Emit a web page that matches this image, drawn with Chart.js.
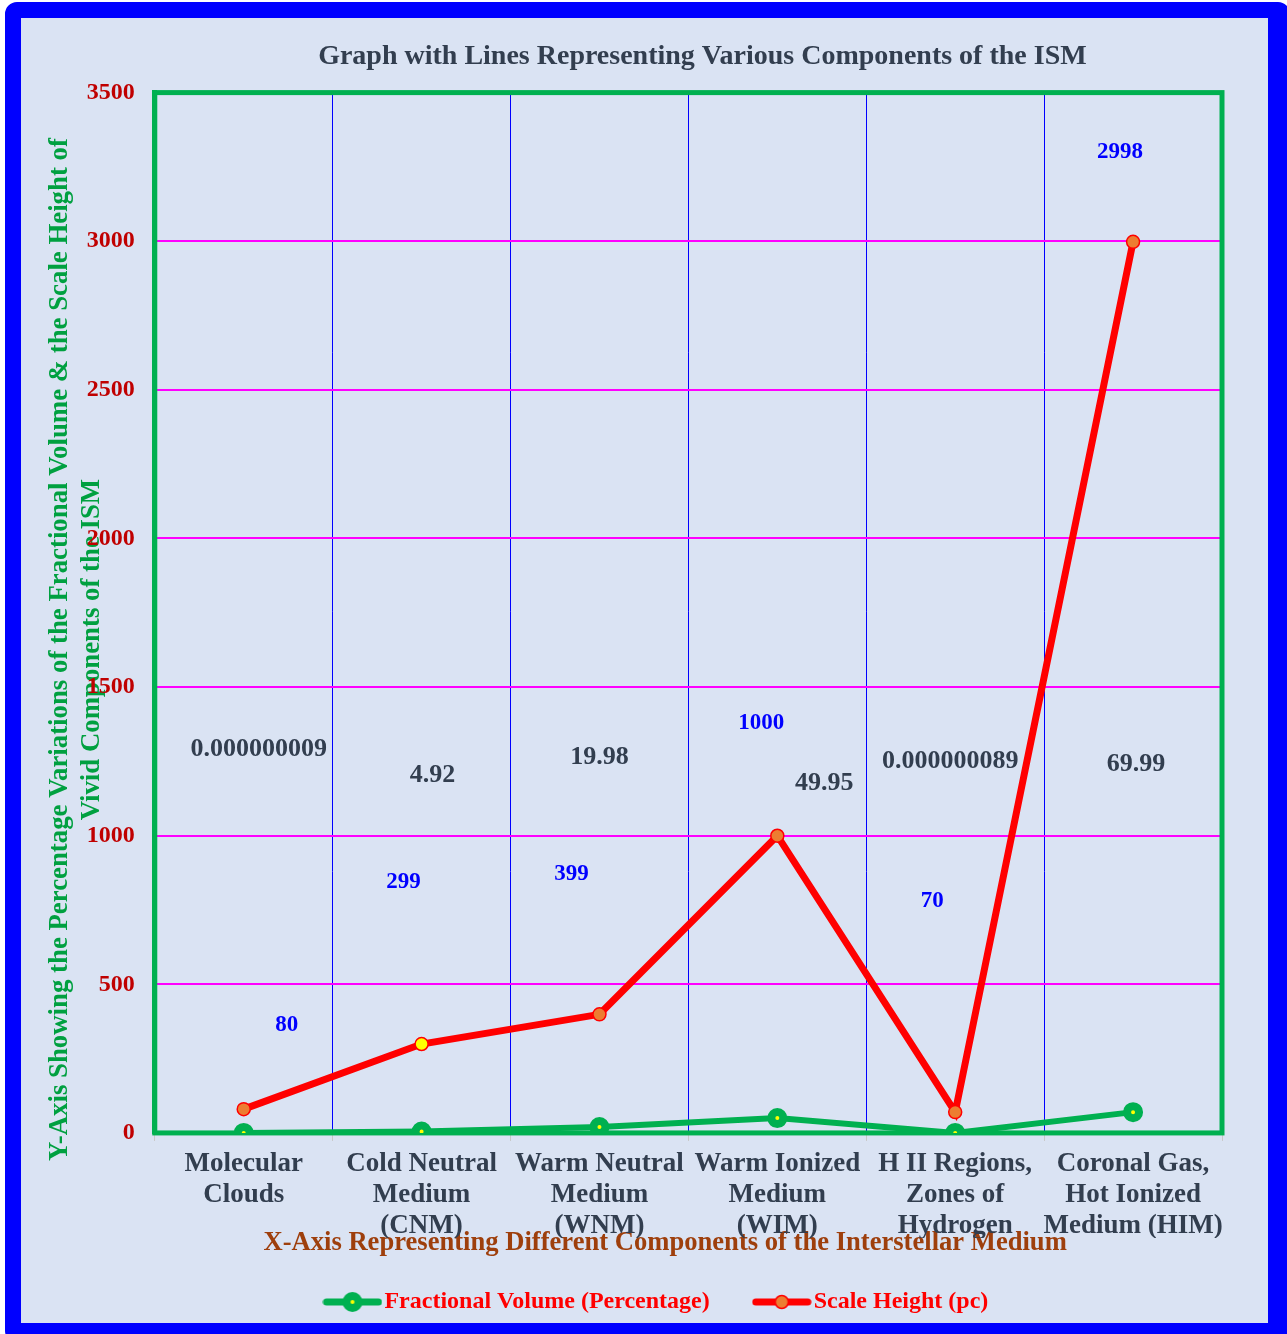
<!DOCTYPE html>
<html>
<head>
<meta charset="utf-8">
<script src="https://cdn.jsdelivr.net/npm/chart.js@4"></script>
<style>
  html, body { margin: 0; padding: 0; background: #ffffff; overflow: hidden; }
  #frame {
    position: absolute; left: 5px; top: 2px;
    width: 1247px; height: 1305px;
    border: 16px solid #0000ff; border-right-width: 22px; border-bottom-width: 20px;
    border-radius: 12px;
    background: #dae3f3;
  }
  #c { display: block; }
</style>
</head>
<body>
<div id="frame"><canvas id="c" width="1247" height="1305"></canvas></div>
<script>
const categories = [
  ["Molecular", "Clouds"],
  ["Cold Neutral", "Medium", "(CNM)"],
  ["Warm Neutral", "Medium", "(WNM)"],
  ["Warm Ionized", "Medium", "(WIM)"],
  ["H II Regions,", "Zones of", "Hydrogen"],
  ["Coronal Gas,", "Hot Ionized", "Medium (HIM)"]
];
const fractionalVolume = [0.000000009, 4.92, 19.98, 49.95, 0.000000089, 69.99];
const fractionalVolumeLabels = ["0.000000009", "4.92", "19.98", "49.95", "0.000000089", "69.99"];
const scaleHeight = [80, 299, 399, 1000, 70, 2998];
const scaleHeightLabels = ["80", "299", "399", "1000", "70", "2998"];
const seriesNames = ["Fractional Volume (Percentage)", "Scale Height (pc)"];
const yTicks = [0, 500, 1000, 1500, 2000, 2500, 3000, 3500];

const FONT = "'Liberation Serif', 'Times New Roman', serif";
const GREEN = '#00b050';
const RED = '#ff0000';
const ORANGE = '#ed7d31';
const DARK = '#323e4f';

// label placement offsets (pixels from each point) – layout only
const labelOffsets = [
  [[15,-384],[11,-356],[0,-370],[47,-335],[-5,-372],[3,-348]],
  [[43,-84],[-18,-162],[-28,-140],[-16,-113],[-23,-211],[-13,-90]]
];

function legendIcon(kind) {
  const c = document.createElement('canvas');
  c.width = 60; c.height = 24;
  const g = c.getContext('2d');
  g.lineCap = 'round';
  if (kind === 0) {
    g.strokeStyle = GREEN; g.lineWidth = 7;
    g.beginPath(); g.moveTo(4, 12); g.lineTo(56, 12); g.stroke();
    g.beginPath(); g.arc(30, 12, 6, 0, Math.PI * 2);
    g.fillStyle = '#ffff00'; g.fill();
    g.lineWidth = 8; g.strokeStyle = GREEN; g.stroke();
  } else {
    g.strokeStyle = RED; g.lineWidth = 7;
    g.beginPath(); g.moveTo(4, 12); g.lineTo(56, 12); g.stroke();
    g.beginPath(); g.arc(30, 12, 6.5, 0, Math.PI * 2);
    g.fillStyle = ORANGE; g.fill();
    g.lineWidth = 1.5; g.strokeStyle = RED; g.stroke();
  }
  return c;
}

const frameBorder = {
  id: 'frameBorder',
  beforeDatasetsDraw(chart) {
    const a = chart.chartArea, ctx = chart.ctx;
    ctx.save();
    ctx.strokeStyle = GREEN; ctx.lineWidth = 5;
    ctx.strokeRect(a.left, a.top, a.right - a.left, a.bottom - a.top);
    ctx.restore();
  }
};

const legendShift = {
  id: 'legendShift',
  afterLayout(chart) {
    if (chart.legend) { chart.legend.left -= 28; chart.legend.right -= 28; }
  }
};

const valueLabels = {
  id: 'valueLabels',
  afterDatasetsDraw(chart) {
    const ctx = chart.ctx;
    const texts = [fractionalVolumeLabels, scaleHeightLabels];
    const styles = [
      { color: DARK, font: "bold 26px " + FONT },
      { color: '#0000ff', font: "bold 23px " + FONT }
    ];
    ctx.save();
    ctx.textAlign = 'center'; ctx.textBaseline = 'middle';
    chart.data.datasets.forEach((ds, di) => {
      const meta = chart.getDatasetMeta(di);
      ctx.fillStyle = styles[di].color; ctx.font = styles[di].font;
      meta.data.forEach((pt, i) => {
        const o = labelOffsets[di][i];
        ctx.fillText(texts[di][i], pt.x + o[0], pt.y + o[1]);
      });
    });
    ctx.restore();
  }
};

const PAD = '           ';

new Chart(document.getElementById('c'), {
  type: 'line',
  data: {
    labels: categories,
    datasets: [
      {
        label: seriesNames[0],
        data: fractionalVolume,
        borderColor: GREEN,
        borderWidth: 6,
        pointRadius: 6,
        pointHoverRadius: 6,
        pointBackgroundColor: '#ffff00',
        pointBorderColor: GREEN,
        pointBorderWidth: 8,
        tension: 0,
        order: 1
      },
      {
        label: seriesNames[1],
        data: scaleHeight,
        borderColor: RED,
        borderWidth: 7,
        pointRadius: 6.5,
        pointHoverRadius: 6.5,
        pointBackgroundColor: [ORANGE, '#ffff00', ORANGE, ORANGE, ORANGE, ORANGE],
        pointBorderColor: RED,
        pointBorderWidth: 1.5,
        tension: 0,
        order: 0
      }
    ]
  },
  options: {
    responsive: false,
    animation: false,
    layout: { padding: { left: 0, right: 46, top: 0, bottom: -1 } },
    plugins: {
      title: {
        display: true,
        fullSize: false,
        text: "    Graph with Lines Representing Various Components of the ISM",
        color: DARK,
        font: { family: FONT, size: 28, weight: 'bold', lineHeight: 1.2 },
        padding: { top: 22, bottom: 19 }
      },
      legend: {
        position: 'bottom',
        fullSize: false,
        labels: {
          usePointStyle: true,
          pointStyleWidth: 40,
          color: RED,
          font: { family: FONT, size: 24, weight: 'bold' },
          padding: 52,
          generateLabels(chart) {
            return chart.data.datasets.map((ds, i) => ({
              text: ds.label,
              pointStyle: legendIcon(i),
              fillStyle: ds.borderColor,
              strokeStyle: ds.borderColor,
              lineWidth: 0,
              fontColor: RED,
              hidden: false,
              datasetIndex: i
            }));
          }
        }
      },
      tooltip: { enabled: false }
    },
    scales: {
      x: {
        offset: true,
        grid: {
          offset: true,
          color: '#0000ff',
          lineWidth: 1,
          drawTicks: true,
          tickLength: 8,
          tickColor: '#c8c8c8'
        },
        border: { display: true, color: GREEN, width: 3 },
        ticks: {
          color: DARK,
          font: { family: FONT, size: 27, weight: 'bold', lineHeight: 1.15 },
          padding: 7.5,
          maxRotation: 0,
          autoSkip: false
        },
        title: {
          display: true,
          text: "X-Axis Representing Different Components of the Interstellar Medium       ",
          color: '#9e3f0c',
          font: { family: FONT, size: 26.6, weight: 'bold', lineHeight: 1.2 },
          padding: { top: -22, bottom: -21 }
        }
      },
      y: {
        min: 0,
        max: 3500,
        afterBuildTicks(axis) { axis.ticks = yTicks.map(v => ({ value: v })); },
        grid: {
          color: '#ff00ff',
          lineWidth: 2,
          drawTicks: false
        },
        border: { display: true, color: GREEN, width: 5 },
        ticks: {
          color: '#c00000',
          font: { family: FONT, size: 24, weight: 'bold' },
          padding: 20,
          callback: (v) => String(v)
        },
        title: {
          display: true,
          text: ["Y-Axis Showing the Percentage Variations of the Fractional Volume & the Scale Height of" + PAD,
                 "Vivid Components of the ISM" + PAD],
          color: '#00a040',
          font: { family: FONT, size: 26.8, weight: 'bold', lineHeight: 1.19 },
          padding: { top: 23, bottom: -41 }
        }
      }
    }
  },
  plugins: [frameBorder, legendShift, valueLabels]
});
</script>
</body>
</html>
